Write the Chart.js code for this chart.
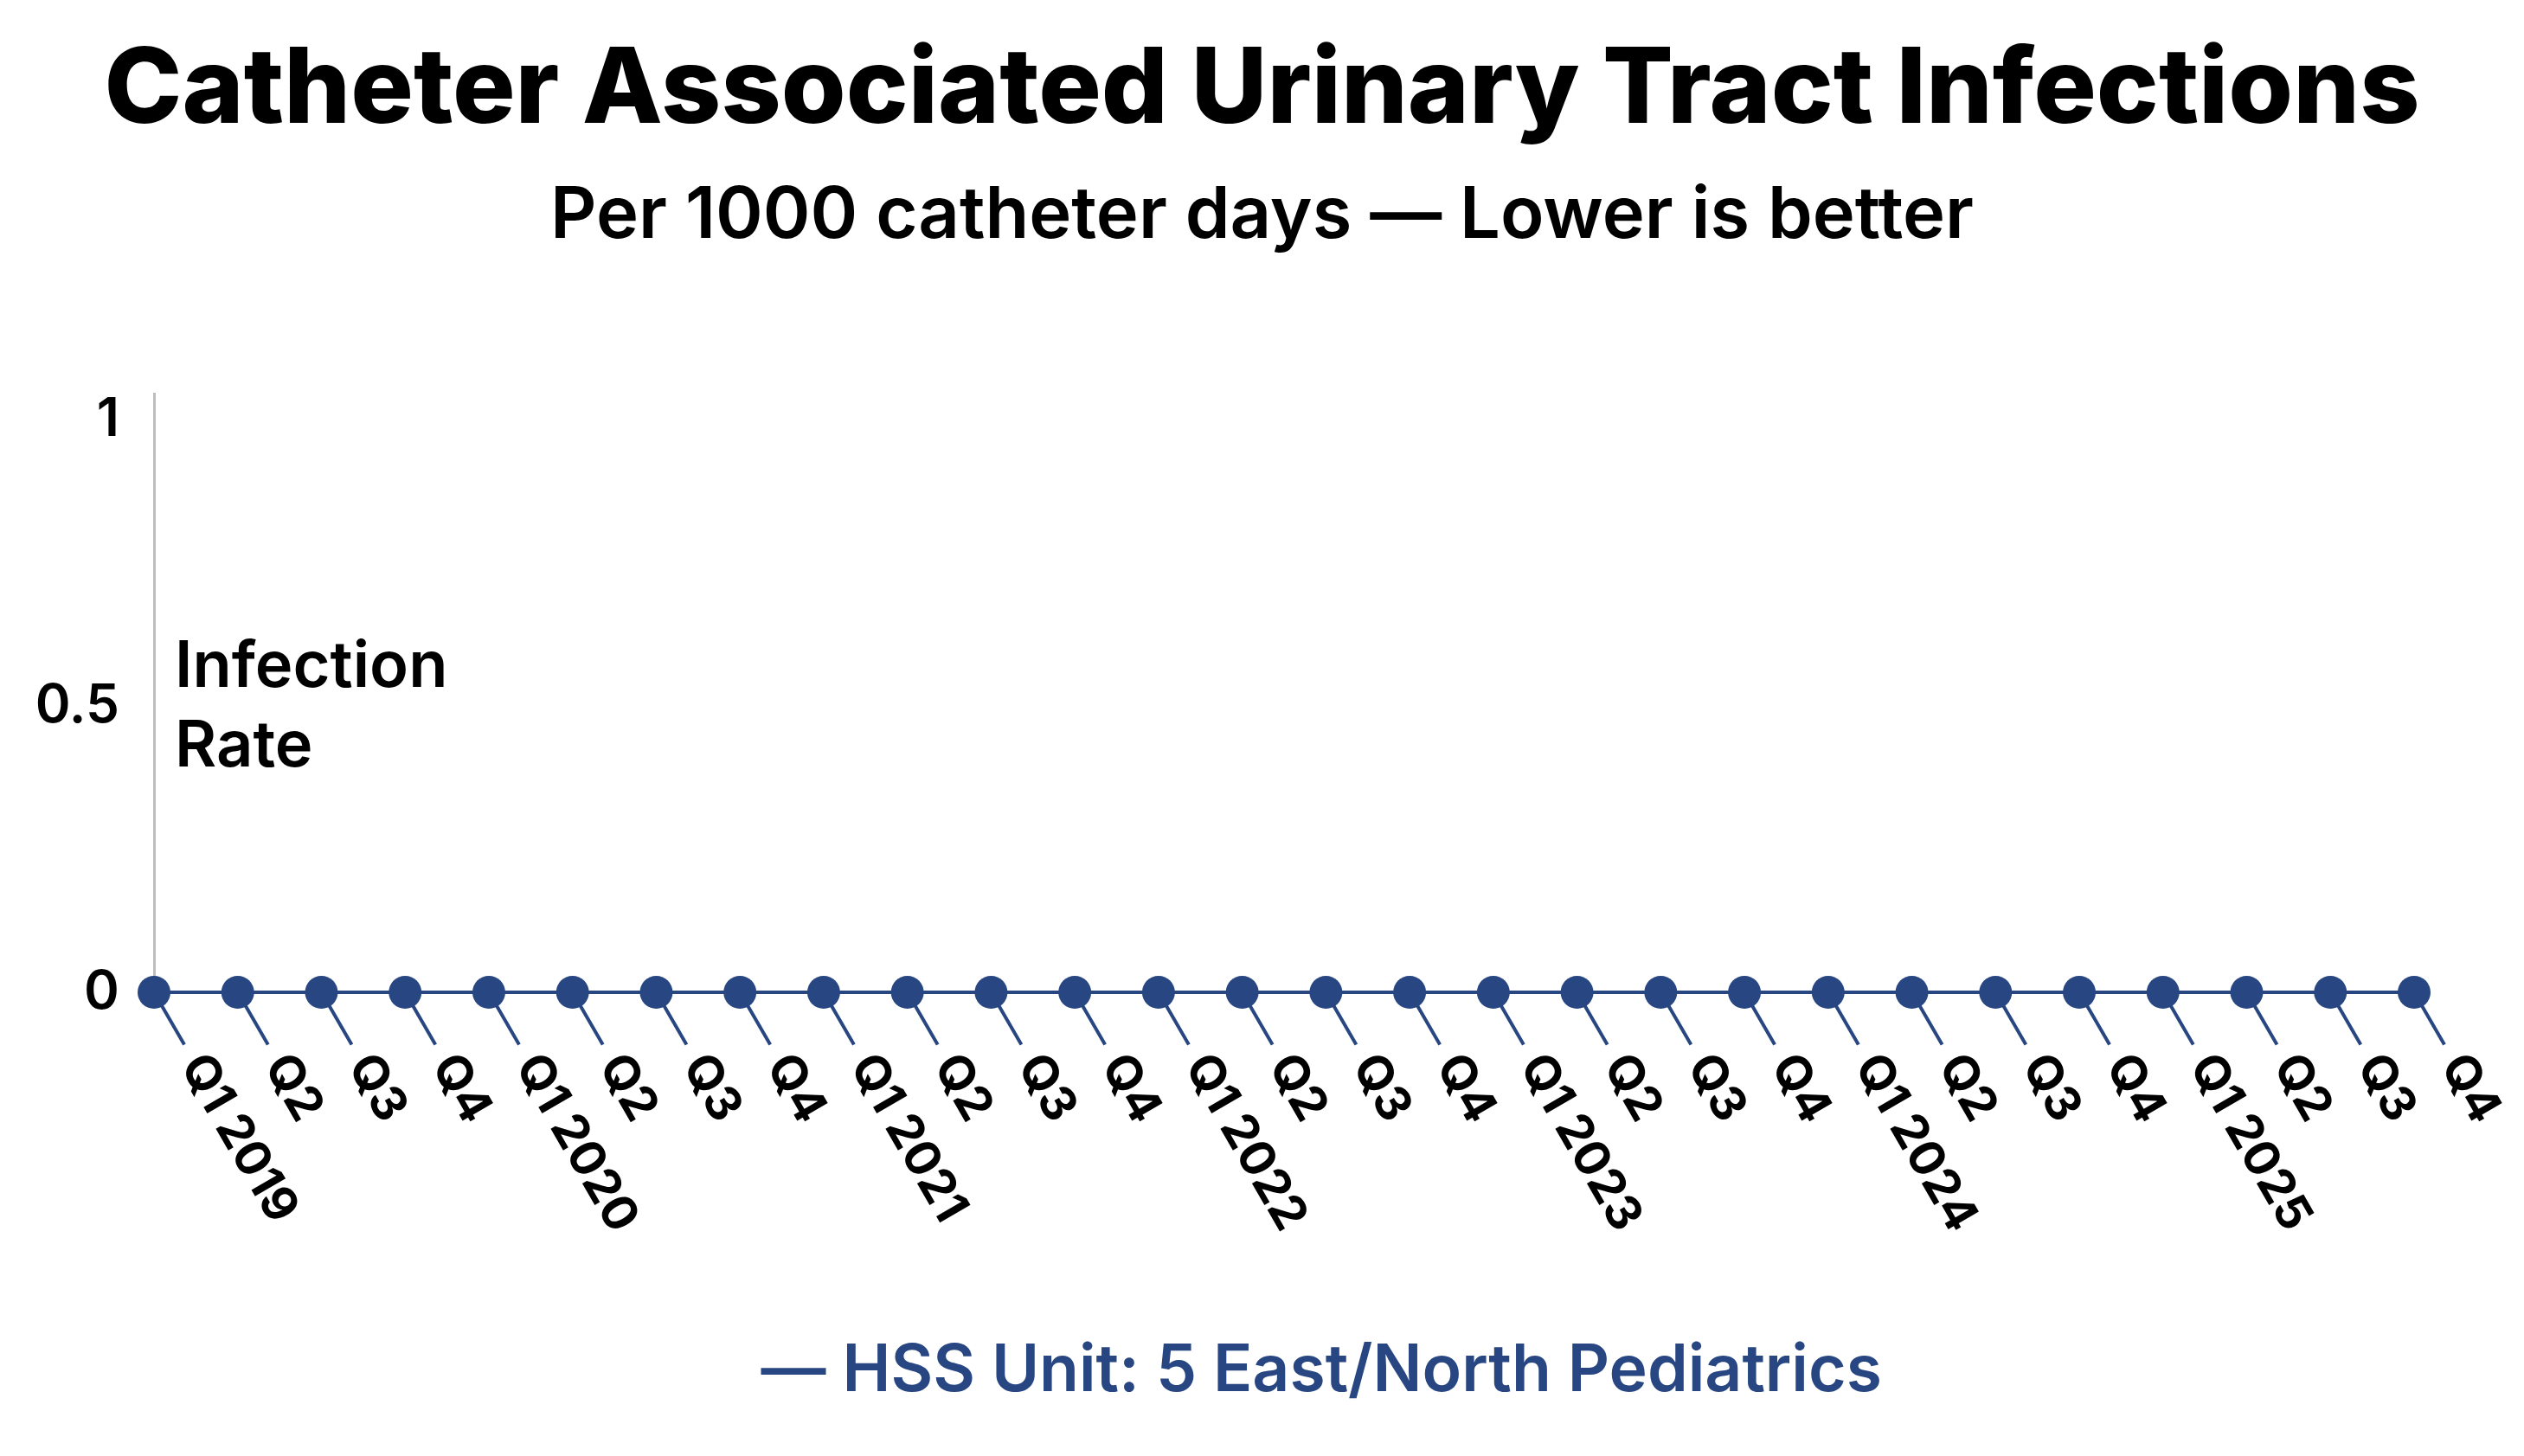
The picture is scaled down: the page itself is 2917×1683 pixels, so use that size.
<!DOCTYPE html>
<html lang="en">
<head>
    <meta charset="UTF-8">
    <title>Catheter Associated Urinary Tract Infections</title>
    <script src="https://cdn.jsdelivr.net/npm/chart.js"></script>
    <style>
        html, body { margin: 0; padding: 0; background: #fff; }
        #wrap { width: 2917px; height: 1683px; }
    </style>
</head>
<body>
    <div id="wrap"><canvas id="cauti-chart"></canvas></div>

    <script>
        // quarters shown on the x axis
        const quarterLabels = [
            'Q1 2019', 'Q2', 'Q3', 'Q4',
            'Q1 2020', 'Q2', 'Q3', 'Q4',
            'Q1 2021', 'Q2', 'Q3', 'Q4',
            'Q1 2022', 'Q2', 'Q3', 'Q4',
            'Q1 2023', 'Q2', 'Q3', 'Q4',
            'Q1 2024', 'Q2', 'Q3', 'Q4',
            'Q1 2025', 'Q2', 'Q3', 'Q4'
        ];
        // infection rate per 1000 catheter days
        const unitRates = [
            0, 0, 0, 0,
            0, 0, 0, 0,
            0, 0, 0, 0,
            0, 0, 0, 0,
            0, 0, 0, 0,
            0, 0, 0, 0,
            0, 0, 0, 0
        ];
        const yTicks = [0, 0.5, 1];
        const seriesName = 'HSS Unit: 5 East/North Pediatrics';

        const blue = '#274682';
        const font = 'Inter';

        // x labels hang down-right from each point, with a short leader line
        const hangingLabels = {
            id: 'hangingLabels',
            beforeDatasetsDraw(chart) {
                const ctx = chart.ctx;
                const xs = chart.scales.x;
                const y0 = chart.scales.y.getPixelForValue(0);
                const ang = 60 * Math.PI / 180;
                ctx.save();
                ctx.strokeStyle = blue;
                ctx.lineWidth = 4;
                quarterLabels.forEach((lab, i) => {
                    const x = xs.getPixelForValue(i);
                    ctx.beginPath();
                    ctx.moveTo(x, y0);
                    ctx.lineTo(x + Math.cos(ang) * 70, y0 + Math.sin(ang) * 70);
                    ctx.stroke();
                });
                ctx.restore();
            },
            afterDraw(chart) {
                const ctx = chart.ctx;
                const xs = chart.scales.x;
                const ys = chart.scales.y;
                const y0 = ys.getPixelForValue(0);
                const ang = 60 * Math.PI / 180;
                ctx.save();
                ctx.fillStyle = '#000';
                ctx.font = `bold 56px ${font}`;
                ctx.textAlign = 'left';
                ctx.textBaseline = 'middle';
                quarterLabels.forEach((lab, i) => {
                    const x = xs.getPixelForValue(i);
                    ctx.save();
                    ctx.translate(x + Math.cos(ang) * 88, y0 + Math.sin(ang) * 88);
                    ctx.rotate(ang);
                    ctx.fillText(lab, 0, 0);
                    ctx.restore();
                });

                // y axis title sits inside the plot, unrotated
                const mid = ys.getPixelForValue(0.5);
                ctx.font = `600 74px ${font}`;
                ctx.fillText('Infection', chart.chartArea.left + 24, mid - 45);
                ctx.fillText('Rate', chart.chartArea.left + 24, mid + 47);
                ctx.restore();
            }
        };

        const ctx = document.getElementById('cauti-chart').getContext('2d');
        new Chart(ctx, {
            type: 'line',
            data: {
                labels: quarterLabels,
                datasets: [{
                    label: seriesName,
                    data: unitRates,
                    borderColor: blue,
                    backgroundColor: blue,
                    borderWidth: 4,
                    pointRadius: 19,
                    pointHoverRadius: 19,
                    pointBackgroundColor: blue,
                    pointBorderWidth: 0,
                    tension: 0,
                    clip: false
                }]
            },
            options: {
                responsive: true,
                maintainAspectRatio: false,
                animation: false,
                devicePixelRatio: 1,
                layout: { padding: { left: 0, right: 0, top: 0, bottom: 50 } },
                scales: {
                    x: {
                        offset: false,
                        grid: { display: false, drawTicks: false },
                        border: { display: false },
                        ticks: { display: false },
                        afterFit(scale) { scale.height = 391; }
                    },
                    y: {
                        min: 0,
                        max: 1.045,
                        afterBuildTicks(scale) {
                            scale.ticks = yTicks.map(v => ({ value: v }));
                        },
                        grid: { display: false, drawTicks: false },
                        border: { display: true, color: '#bdbdbd', width: 3 },
                        ticks: {
                            padding: 40,
                            color: '#000',
                            font: { family: font, size: 62, weight: '600' },
                            callback: v => String(v)
                        },
                        afterFit(scale) { scale.width = 178; }
                    },
                    // empty right-hand gutter so titles stay centred on the page
                    gutter: {
                        type: 'linear',
                        position: 'right',
                        display: true,
                        grid: { display: false, drawTicks: false },
                        border: { display: false },
                        ticks: { display: false },
                        afterFit(scale) { scale.width = 127; }
                    }
                },
                plugins: {
                    title: {
                        display: true,
                        text: 'Catheter Associated Urinary Tract Infections',
                        color: '#000',
                        font: { family: font, size: 121, weight: '800' },
                        padding: { top: 33, bottom: 0 }
                    },
                    subtitle: {
                        display: true,
                        text: 'Per 1000 catheter days \u2014 Lower is better',
                        color: '#000',
                        font: { family: font, size: 83, weight: '600' },
                        padding: { top: 22, bottom: 156 }
                    },
                    legend: {
                        position: 'bottom',
                        labels: {
                            color: blue,
                            font: { family: font, size: 75, weight: '600' },
                            boxWidth: 100,
                            boxHeight: 0,
                            padding: 10,
                            generateLabels(chart) {
                                return [{
                                    text: '\u2014 ' + seriesName,
                                    fontColor: blue,
                                    fillStyle: 'rgba(0,0,0,0)',
                                    strokeStyle: 'rgba(0,0,0,0)',
                                    lineWidth: 0,
                                    datasetIndex: 0
                                }];
                            }
                        }
                    },
                    tooltip: { enabled: false }
                }
            },
            plugins: [hangingLabels]
        });
    </script>
</body>
</html>
